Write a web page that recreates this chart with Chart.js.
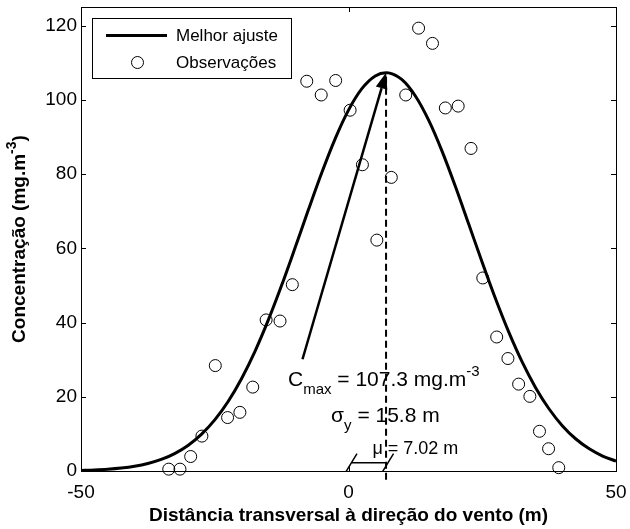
<!DOCTYPE html>
<html><head><meta charset="utf-8">
<script src="https://cdn.jsdelivr.net/npm/chart.js@4"></script>
<style>html,body{margin:0;padding:0;background:#fff}#wrap{width:630px;height:529px}</style>
</head><body><div id="wrap"><canvas id="c" width="630" height="529"></canvas></div>
<script>
// ---- data ----
const fitX = [-50,-47.5,-45,-42.5,-40,-37.5,-35,-32.5,-30,-27.5,-25,-22.5,-20,-17.5,-15,-12.5,-10,-7.5,-5,-2.5,0,2.5,5,7.02,7.5,10,12.5,15,17.5,20,22.5,25,27.5,30,32.5,35,37.5,40,42.5,45,47.5,50];
const fitY = [0.16,0.28,0.47,0.79,1.28,2.03,3.12,4.70,6.89,9.86,13.77,18.73,24.87,32.18,40.63,50.02,60.07,70.35,80.34,89.49,97.22,103.0,106.43,107.3,107.25,105.41,101.03,94.45,86.11,76.57,66.40,56.16,46.32,37.26,29.24,22.37,16.70,12.15,8.62,5.97,4.03,2.65];
const obsX = [-33.6,-31.5,-29.5,-27.4,-24.9,-22.6,-20.3,-17.9,-15.4,-12.8,-10.5,-7.8,-5.1,-2.4,0.3,2.6,5.3,8.0,10.7,13.1,15.7,18.1,20.5,22.9,25.1,27.7,29.8,31.8,33.9,35.7,37.4,39.3];
const obsY = [0.5,0.5,3.9,9.4,28.4,14.4,15.8,22.6,40.7,40.4,50.2,105.0,101.3,105.2,97.2,82.5,62.2,79.1,101.3,119.3,115.2,97.8,98.3,86.9,52.0,36.1,30.3,23.4,20.1,10.7,6.0,0.9];
const xTicks = [-50, 0, 50];
const yTicks = [0, 20, 40, 60, 80, 100, 120];
const seriesLabels = ['Melhor ajuste', 'Observações'];
const cMax = 107.3, sigmaY = 15.8, muVal = 7.02;
const arrowTail = [-8.6, 30.1];           // x, y (data units)
const labelX = [6.6, 6.9, 12.5];          // C_max, sigma_y, mu labels
const labelY = [25.0, 15.2, 6.3];
const bracketY = 2.25;
const xTitle = 'Distância transversal à direção do vento (m)';
const yTitle = 'Concentração (mg.m';

const FONT = '"Liberation Sans", Arial, sans-serif';
const TICK_PX = 19, LEG_PX = 17, ANN_PX = 21, MU_PX = 18, TITLE_PX = 19;

const decor = {
  id: 'decor',
  afterDatasetsDraw(chart) {
    const ctx = chart.ctx, xs = chart.scales.x, ys = chart.scales.y, a = chart.chartArea;
    const px = v => xs.getPixelForValue(v), py = v => ys.getPixelForValue(v);
    ctx.save();
    ctx.strokeStyle = '#000'; ctx.fillStyle = '#000';
    // box
    ctx.lineWidth = 1;
    ctx.strokeRect(Math.round(a.left) + 0.5, Math.round(a.top) + 0.5, Math.round(a.right - a.left), Math.round(a.bottom - a.top));
    // inward ticks
    const tl = 5;
    ctx.beginPath();
    yTicks.forEach(v => { const y = Math.round(py(v)) + 0.5;
      ctx.moveTo(a.left, y); ctx.lineTo(a.left + tl, y);
      ctx.moveTo(a.right, y); ctx.lineTo(a.right - tl, y); });
    xTicks.forEach(v => { const x = Math.round(px(v)) + 0.5;
      ctx.moveTo(x, a.bottom); ctx.lineTo(x, a.bottom - tl);
      ctx.moveTo(x, a.top); ctx.lineTo(x, a.top + tl); });
    ctx.stroke();

    // dashed mean line
    ctx.lineWidth = 2; ctx.setLineDash([7, 4]);
    ctx.beginPath(); ctx.moveTo(px(muVal), py(cMax) + 4); ctx.lineTo(px(muVal), a.bottom + 12); ctx.stroke();
    ctx.setLineDash([]);

    // arrow
    const tx = px(arrowTail[0]), ty = py(arrowTail[1]), hx = px(muVal), hy = py(cMax);
    const ang = Math.atan2(hy - ty, hx - tx), hl = 16, hw = 6;
    const bx = hx - hl * Math.cos(ang), by = hy - hl * Math.sin(ang);
    ctx.lineWidth = 2.5;
    ctx.beginPath(); ctx.moveTo(tx, ty); ctx.lineTo(bx, by); ctx.stroke();
    ctx.beginPath(); ctx.moveTo(hx, hy);
    ctx.lineTo(bx + hw * Math.sin(ang), by - hw * Math.cos(ang));
    ctx.lineTo(bx - hw * Math.sin(ang), by + hw * Math.cos(ang));
    ctx.closePath(); ctx.fill();

    // bracket for mu
    const by0 = py(bracketY), x0 = px(0) + 3, x1 = px(muVal) + 2;
    ctx.lineWidth = 1.5;
    ctx.beginPath(); ctx.moveTo(x0, by0); ctx.lineTo(x1 - 3, by0);
    [x0, x1].forEach(cx => { ctx.moveTo(cx - 5.5, by0 + 9); ctx.lineTo(cx + 5.5, by0 - 9); });
    ctx.stroke();

    // rich texts
    ctx.textBaseline = 'alphabetic'; ctx.textAlign = 'left';
    function rich(parts, cx, cy, size) {
      let w = 0;
      parts.forEach(p => { ctx.font = Math.round(p[1] * size) + 'px ' + FONT; p.w = ctx.measureText(p[0]).width; w += p.w; });
      let x = cx - w / 2; const base = cy + size * 0.36;
      parts.forEach(p => { ctx.font = Math.round(p[1] * size) + 'px ' + FONT; ctx.fillText(p[0], x, base + p[2] * size); x += p.w; });
    }
    rich([['C', 1, 0], ['max', 0.72, 0.38], [' = ' + cMax.toFixed(1) + ' mg.m', 1, 0], ['-3', 0.72, -0.45]], px(labelX[0]), py(labelY[0]), ANN_PX);
    rich([['σ', 1, 0], ['y', 0.72, 0.38], [' = ' + sigmaY.toFixed(1) + ' m', 1, 0]], px(labelX[1]), py(labelY[1]), ANN_PX);
    rich([['μ = ' + muVal.toFixed(2) + ' m', 1, 0]], px(labelX[2]), py(labelY[2]), MU_PX);

    // legend
    const lx = a.left + 11, ly = a.top + 11, lw = 199, lh = 60;
    ctx.fillStyle = '#fff'; ctx.fillRect(lx, ly, lw, lh);
    ctx.fillStyle = '#000'; ctx.lineWidth = 1;
    ctx.strokeRect(Math.round(lx) + 0.5, Math.round(ly) + 0.5, lw, lh);
    ctx.lineWidth = 3; ctx.beginPath(); ctx.moveTo(lx + 14, ly + 17.5); ctx.lineTo(lx + 75, ly + 17.5); ctx.stroke();
    ctx.lineWidth = 1; ctx.beginPath(); ctx.arc(lx + 45.5, ly + 44.5, 6, 0, Math.PI * 2); ctx.stroke();
    ctx.font = LEG_PX + 'px ' + FONT; ctx.textBaseline = 'middle';
    ctx.fillText(seriesLabels[0], lx + 84, ly + 18.5);
    ctx.fillText(seriesLabels[1], lx + 84, ly + 45.5);

    // axis titles
    ctx.font = 'bold ' + TITLE_PX + 'px ' + FONT; ctx.textAlign = 'center'; ctx.textBaseline = 'middle';
    ctx.fillText(xTitle, (a.left + a.right) / 2, 516);
    ctx.save();
    ctx.translate(20, (a.top + a.bottom) / 2); ctx.rotate(-Math.PI / 2);
    const w1 = ctx.measureText(yTitle).width;
    ctx.font = 'bold ' + Math.round(TITLE_PX * 0.72) + 'px ' + FONT;
    const w2 = ctx.measureText('-3').width;
    ctx.font = 'bold ' + TITLE_PX + 'px ' + FONT;
    const w3 = ctx.measureText(')').width;
    let sx = -(w1 + w2 + w3) / 2;
    ctx.textAlign = 'left';
    ctx.fillText(yTitle, sx, 0); sx += w1;
    ctx.font = 'bold ' + Math.round(TITLE_PX * 0.72) + 'px ' + FONT;
    ctx.fillText('-3', sx, -8); sx += w2;
    ctx.font = 'bold ' + TITLE_PX + 'px ' + FONT;
    ctx.fillText(')', sx, 0);
    ctx.restore();
    ctx.restore();
  }
};

const fixScale = (w, h) => s => {
  if (w != null) s.width = w;
  if (h != null) s.height = h;
  s.paddingTop = 0; s.paddingBottom = 0; s.paddingLeft = 0; s.paddingRight = 0;
};

new Chart(document.getElementById('c'), {
  type: 'scatter',
  data: {
    datasets: [
      { label: seriesLabels[0], data: fitX.map((x, i) => ({ x, y: fitY[i] })), showLine: true,
        borderColor: '#000', borderWidth: 3, pointRadius: 0, pointHoverRadius: 0,
        cubicInterpolationMode: 'monotone', fill: false, order: 2 },
      { label: seriesLabels[1], data: obsX.map((x, i) => ({ x, y: obsY[i] })), showLine: false,
        pointStyle: 'circle', pointRadius: 6, pointBorderWidth: 1, pointBorderColor: '#000',
        pointBackgroundColor: 'rgba(0,0,0,0)', borderColor: '#000', backgroundColor: 'rgba(0,0,0,0)',
        clip: false, order: 1 }
    ]
  },
  options: {
    responsive: false, animation: false, devicePixelRatio: 1,
    layout: { padding: { left: 0, right: 14, top: 4, bottom: 0 } },
    plugins: { legend: { display: false }, tooltip: { enabled: false } },
    scales: {
      x: { type: 'linear', min: -50, max: 50,
        afterBuildTicks: s => { s.ticks = xTicks.map(v => ({ value: v })); },
        afterFit: fixScale(null, 58),
        grid: { display: false, drawTicks: false }, border: { display: false },
        ticks: { color: '#000', font: { family: FONT, size: TICK_PX }, padding: 10, maxRotation: 0, autoSkip: false } },
      y: { type: 'linear', min: 0, max: 125,
        afterBuildTicks: s => { s.ticks = yTicks.map(v => ({ value: v })); },
        afterFit: fixScale(81, null),
        grid: { display: false, drawTicks: false }, border: { display: false },
        ticks: { color: '#000', font: { family: FONT, size: TICK_PX }, padding: 4, autoSkip: false } }
    }
  },
  plugins: [decor]
});
</script></body></html>
